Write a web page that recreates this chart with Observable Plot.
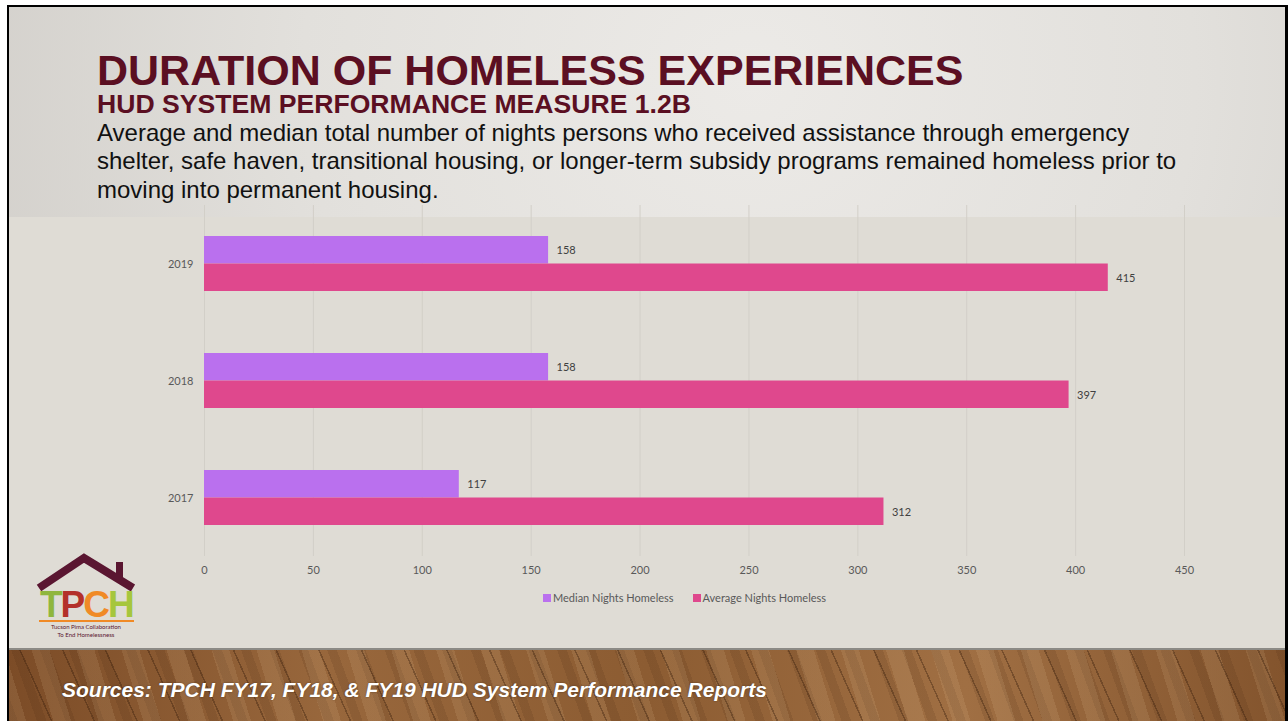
<!DOCTYPE html>
<html>
<head>
<meta charset="utf-8">
<script src="https://cdn.jsdelivr.net/npm/d3@7"></script>
<script src="https://cdn.jsdelivr.net/npm/@observablehq/plot@0.6"></script>
<style>
  html, body { margin: 0; padding: 0; background: #ffffff; }
  #page { position: relative; width: 1288px; height: 721px; overflow: hidden; background: #fff; }
  #frame { position: absolute; left: 7px; top: 5px; width: 1281px; height: 716px; background: #000; }
  #slide { position: absolute; left: 9px; top: 7px; width: 1276px; height: 714px; overflow: hidden;
    background: radial-gradient(ellipse 70% 120% at 58% 10%, #eceae7 0%, #e2e0dc 50%, #cfccc7 100%); }
  #panel { position: absolute; left: 9px; top: 217px; width: 1276px; height: 431px; background: #dfdcd5; }
  #floor { position: absolute; left: 9px; top: 648px; width: 1276px; height: 73px;
    border-top: 2px solid #8c8a85;
    background:
      repeating-linear-gradient(66deg, rgba(50,25,8,0.35) 0px, rgba(50,25,8,0.35) 1.5px, rgba(0,0,0,0) 1.5px, rgba(0,0,0,0) 39px),
      repeating-linear-gradient(73deg, rgba(255,225,180,0.10) 0px, rgba(255,225,180,0.10) 17px, rgba(0,0,0,0) 17px, rgba(0,0,0,0) 43px),
      repeating-linear-gradient(70deg, rgba(60,30,10,0.12) 0px, rgba(60,30,10,0.12) 9px, rgba(0,0,0,0) 9px, rgba(0,0,0,0) 27px),
      linear-gradient(90deg, #7c4c27 0%, #98673c 25%, #8c5c32 50%, #a06f43 75%, #83542d 100%); }
  .t { position: absolute; white-space: nowrap; font-family: "Liberation Sans", Arial, sans-serif; }
  #title { left: 97px; top: 52px; font-size: 43px; line-height: 36px; font-weight: bold; color: #5b0f22; }
  #sub { left: 97px; top: 93px; font-size: 26.6px; line-height: 22px; font-weight: bold; color: #5b0f22; }
  #desc { left: 97px; top: 118.5px; font-size: 24px; line-height: 28.5px; color: #111; }
  #src { left: 62px; top: 679px; font-size: 21px; line-height: 21px; font-weight: bold; font-style: italic; color: #fff;
    text-shadow: 0 0 2px rgba(0,0,0,0.4); }
  #chart { position: absolute; left: 0px; top: 200px; }
  #legend { position: absolute; top: 591px; left: 543px; font-family: Lato, "Open Sans", sans-serif; font-size: 11px; color: #595959; white-space: nowrap; }
  #legend span.sw { display: inline-block; width: 8px; height: 8px; margin-right: 2px; vertical-align: 0px; }
  #legend span.item { margin-right: 19px; }
  #logo { position: absolute; left: 30px; top: 550px; }
</style>
</head>
<body>
<div id="page">
  <div id="frame"></div>
  <div id="slide"></div>
  <div id="panel"></div>
  <div id="floor"></div>
  <div class="t" id="title">DURATION OF HOMELESS EXPERIENCES</div>
  <div class="t" id="sub">HUD SYSTEM PERFORMANCE MEASURE 1.2B</div>
  <div class="t" id="desc">Average and median total number of nights persons who received assistance through emergency<br>shelter, safe haven, transitional housing, or longer-term subsidy programs remained homeless prior to<br>moving into permanent housing.</div>
  <div id="chart"></div>
  <div id="legend"></div>
  <svg id="logo" width="120" height="95" viewBox="0 0 120 95">
    <polyline points="9,38 54,8 103,38" fill="none" stroke="#5a1631" stroke-width="8" stroke-linejoin="miter"/>
    <rect x="86" y="12" width="7" height="18" fill="#5a1631"/>
    <text x="10" y="67" font-family="Liberation Sans, Arial, sans-serif" font-weight="bold" font-size="37" letter-spacing="-2">
      <tspan fill="#8fb63d">T</tspan><tspan fill="#b3302a">P</tspan><tspan fill="#f08a26">C</tspan><tspan fill="#a6c63d">H</tspan>
    </text>
    <rect x="9" y="70" width="95" height="2" fill="#f08a26"/>
    <text x="56" y="79" text-anchor="middle" font-family="Lato, sans-serif" font-size="6" fill="#5a1631">Tucson Pima Collaboration</text>
    <text x="56" y="87" text-anchor="middle" font-family="Lato, sans-serif" font-size="6" fill="#5a1631">To End Homelessness</text>
  </svg>
  <div class="t" id="src">Sources: TPCH FY17, FY18, &amp; FY19 HUD System Performance Reports</div>
</div>
<script>
const years = ["2019", "2018", "2017"];
const medianNights = [158, 158, 117];
const averageNights = [415, 397, 312];
const seriesNames = ["Median Nights Homeless", "Average Nights Homeless"];
const seriesColors = ["#ba70ee", "#df488d"];
const xTicks = [0, 50, 100, 150, 200, 250, 300, 350, 400, 450];

const medianData = years.map((y, i) => ({year: y, series: seriesNames[0], value: medianNights[i]}));
const averageData = years.map((y, i) => ({year: y, series: seriesNames[1], value: averageNights[i]}));

const chart = Plot.plot({
  width: 1288,
  height: 400,
  marginLeft: 204,
  marginRight: 104,
  marginTop: 5,
  marginBottom: 44,
  style: {background: "transparent", fontFamily: "Lato, 'Open Sans', sans-serif", fontSize: "11px", color: "#595959"},
  x: {domain: [0, 450], ticks: xTicks, tickSize: 0, tickPadding: 10, label: null},
  y: {domain: years, paddingInner: 0.53, paddingOuter: 0.265, tickSize: 0, tickPadding: 11, label: null},
  color: {domain: seriesNames, range: seriesColors},
  marks: [
    Plot.ruleX(xTicks, {stroke: "#d2cfc8", strokeWidth: 1}),
    Plot.barX(medianData, {x: "value", y: "year", fill: "series", insetBottom: 27.5}),
    Plot.barX(averageData, {x: "value", y: "year", fill: "series", insetTop: 27.5}),
    Plot.text(medianData, {x: "value", y: "year", text: d => String(d.value), dx: 8, dy: -13.5, textAnchor: "start", fill: "#404040", fontSize: 11}),
    Plot.text(averageData, {x: "value", y: "year", text: d => String(d.value), dx: 8, dy: 14, textAnchor: "start", fill: "#404040", fontSize: 11})
  ]
});
document.getElementById("chart").appendChild(chart);

const legend = document.getElementById("legend");
seriesNames.forEach((name, i) => {
  const item = document.createElement("span");
  item.className = "item";
  const sw = document.createElement("span");
  sw.className = "sw";
  sw.style.background = seriesColors[i];
  item.appendChild(sw);
  item.appendChild(document.createTextNode(name));
  legend.appendChild(item);
});
</script>
</body>
</html>
